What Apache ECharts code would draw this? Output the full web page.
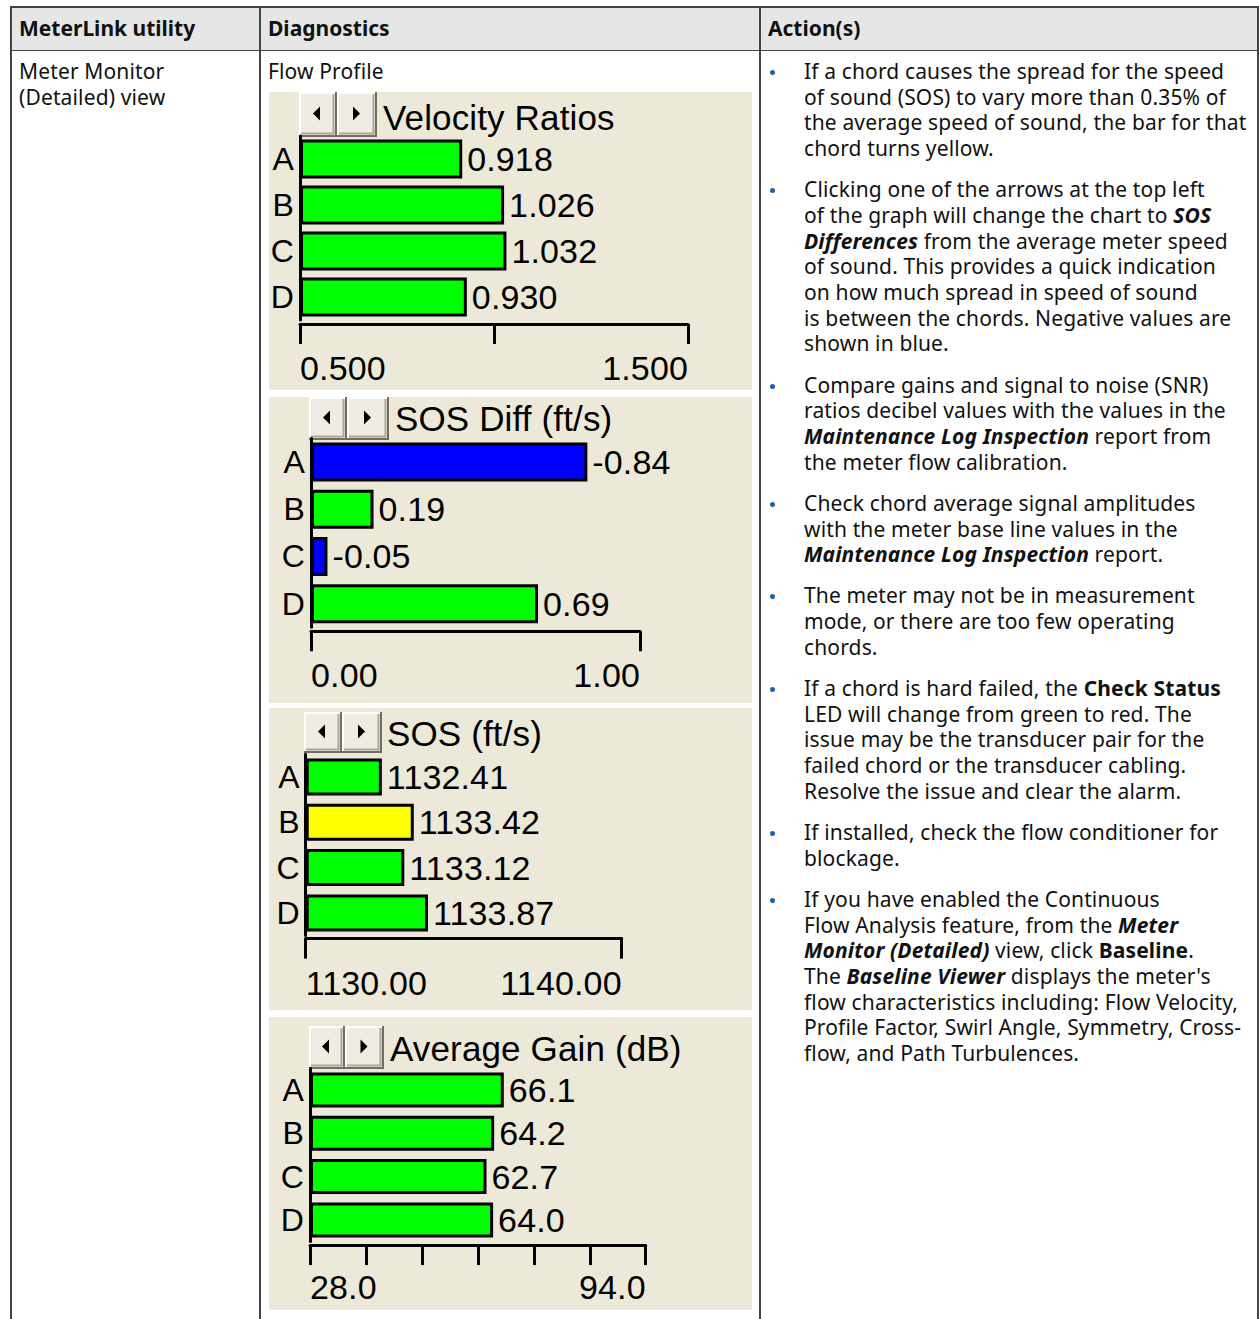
<!DOCTYPE html>
<html>
<head>
<meta charset="utf-8">
<script src="https://cdn.jsdelivr.net/npm/echarts@6/dist/echarts.min.js"></script>
<style>
  html, body { margin:0; padding:0; background:#fff; }
  body { width:1259px; height:1319px; overflow:hidden; position:relative;
         font-family:"Noto Sans", sans-serif; font-size:21px; letter-spacing:0.14px; color:#111; }
  .ln { position:absolute; background:#444; }
  .hdr { position:absolute; left:11px; top:8px; width:1247px; height:42px; background:#e6e6e6; }
  .t { position:absolute; line-height:25.67px; white-space:nowrap; }
  .t.h { font-weight:700; letter-spacing:0; }
  .col3 { position:absolute; left:804px; top:59px; white-space:nowrap; line-height:25.67px; }
  .col3 p { margin:0 0 15.6px 0; position:relative; }
  .col3 p::before { content:""; position:absolute; left:-34px; top:11px; width:5px; height:5px;
                    border-radius:50%; background:#1d5fa8; }
  .panel { position:absolute; background:#ece9d8; }
</style>
</head>
<body>
<div class="hdr"></div>
<div class="ln" style="left:10px; top:6px; width:1249px; height:2px;"></div>
<div class="ln" style="left:10px; top:50px; width:1249px; height:1px;"></div>
<div class="ln" style="left:10px; top:6px; width:2px; height:1313px;"></div>
<div class="ln" style="left:259px; top:6px; width:1.5px; height:1313px;"></div>
<div class="ln" style="left:758.5px; top:6px; width:2px; height:1313px;"></div>
<div class="ln" style="left:1257px; top:6px; width:2px; height:1313px;"></div>

<div class="t h" style="left:19px; top:16px;">MeterLink utility</div>
<div class="t h" style="left:268px; top:16px;">Diagnostics</div>
<div class="t h" style="left:768px; top:16px;">Action(s)</div>

<div class="t" style="left:19px; top:59px;">Meter Monitor<br>(Detailed) view</div>
<div class="t" style="left:268px; top:59px;">Flow Profile</div>

<div class="col3">
<p>If a chord causes the spread for the speed<br>of sound (SOS) to vary more than 0.35% of<br>the average speed of sound, the bar for that<br>chord turns yellow.</p>
<p>Clicking one of the arrows at the top left<br>of the graph will change the chart to <b><i>SOS</i></b><br><b><i>Differences</i></b> from the average meter speed<br>of sound. This provides a quick indication<br>on how much spread in speed of sound<br>is between the chords. Negative values are<br>shown in blue.</p>
<p>Compare gains and signal to noise (SNR)<br>ratios decibel values with the values in the<br><b><i>Maintenance Log Inspection</i></b> report from<br>the meter flow calibration.</p>
<p>Check chord average signal amplitudes<br>with the meter base line values in the<br><b><i>Maintenance Log Inspection</i></b> report.</p>
<p>The meter may not be in measurement<br>mode, or there are too few operating<br>chords.</p>
<p>If a chord is hard failed, the <b>Check Status</b><br>LED will change from green to red. The<br>issue may be the transducer pair for the<br>failed chord or the transducer cabling.<br>Resolve the issue and clear the alarm.</p>
<p>If installed, check the flow conditioner for<br>blockage.</p>
<p>If you have enabled the Continuous<br>Flow Analysis feature, from the <b><i>Meter</i></b><br><b><i>Monitor (Detailed)</i></b> view, click <b>Baseline</b>.<br>The <b><i>Baseline Viewer</i></b> displays the meter's<br>flow characteristics including: Flow Velocity,<br>Profile Factor, Swirl Angle, Symmetry, Cross-<br>flow, and Path Turbulences.</p>
</div>

<div id="c1" class="panel" style="left:269px; top:92px; width:483px; height:298px;"></div>
<div id="c2" class="panel" style="left:269px; top:397px; width:483px; height:306px;"></div>
<div id="c3" class="panel" style="left:269px; top:708px; width:483px; height:302px;"></div>
<div id="c4" class="panel" style="left:269px; top:1017px; width:483px; height:293px;"></div>

<script>
// ---------------- data ----------------
const categories = ['A', 'B', 'C', 'D'];

const velocityTitle = 'Velocity Ratios';
const velocityRatios = [0.918, 1.026, 1.032, 0.930];
const velocityRange = [0.5, 1.5];
const velocityTicks = [0.5, 1.0, 1.5];
const velocityTickLabelValues = [0.5, 1.5];
const velocityTickLabels = ['0.500', '1.500'];

const sosDiffTitle = 'SOS Diff (ft/s)';
const sosDiff = [-0.84, 0.19, -0.05, 0.69];
const sosDiffRange = [0, 1];
const sosDiffTicks = [0, 1];
const sosDiffTickLabelValues = [0, 1];
const sosDiffTickLabels = ['0.00', '1.00'];

const sosTitle = 'SOS (ft/s)';
const sos = [1132.41, 1133.42, 1133.12, 1133.87];
const sosAlarm = [false, true, false, false];
const sosRange = [1130, 1140];
const sosTicks = [1130, 1140];
const sosTickLabelValues = [1130, 1140];
const sosTickLabels = ['1130.00', '1140.00'];

const gainTitle = 'Average Gain (dB)';
const avgGain = [66.1, 64.2, 62.7, 64.0];
const gainRange = [28, 94];
const gainTicks = [28, 39, 50, 61, 72, 83, 94];
const gainTickLabelValues = [28, 94];
const gainTickLabels = ['28.0', '94.0'];

// ---------------- drawing ----------------
const FONT = '"Liberation Sans", Arial, sans-serif';
const GREEN = '#00ff00', BLUE = '#0000ff', YELLOW = '#ffff00';

function button(x, y, w, h, dir) {
  const cx = x + w / 2 - 1, cy = y + h / 2 - 1;
  const tri = dir < 0
    ? [[cx + 3, cy - 7], [cx + 3, cy + 7], [cx - 4, cy]]
    : [[cx - 3, cy - 7], [cx - 3, cy + 7], [cx + 4, cy]];
  return [
    { type: 'rect', shape: { x: x, y: y, width: w, height: h }, style: { fill: '#efede3' }, silent: true },
    { type: 'polyline', shape: { points: [[x + 1, y + h - 2], [x + 1, y + 1], [x + w - 2, y + 1]] }, style: { stroke: '#ffffff', lineWidth: 2, fill: null }, silent: true },
    { type: 'polyline', shape: { points: [[x + w - 3.5, y + 2], [x + w - 3.5, y + h - 3.5], [x + 2, y + h - 3.5]] }, style: { stroke: '#aca899', lineWidth: 2, fill: null }, silent: true },
    { type: 'polyline', shape: { points: [[x + w - 1, y], [x + w - 1, y + h - 1], [x, y + h - 1]] }, style: { stroke: '#716f64', lineWidth: 2, fill: null }, silent: true },
    { type: 'polygon', shape: { points: tri }, style: { fill: '#000' }, silent: true }
  ];
}

function build(id, cfg) {
  const chart = echarts.init(document.getElementById(id), null, { renderer: 'svg' });
  const g = cfg.layout;
  const findLabel = v => {
    const i = cfg.labelValues.findIndex(t => Math.abs(t - v) < 1e-9);
    return i >= 0 ? cfg.labelTexts[i] : '';
  };
  const graphics = []
    .concat(button(g.btnX, g.btnY, g.btnW1, g.btnH, -1))
    .concat(button(g.btnX + g.btnW1, g.btnY, g.btnW2, g.btnH, 1));
  graphics.push({
    type: 'text', x: g.titleX, y: g.titleY, silent: true,
    style: { text: cfg.title, fill: '#000', font: '35px ' + FONT, verticalAlign: 'middle', align: 'left' }
  });
  chart.setOption({
    animation: false,
    backgroundColor: '#ece9d8',
    graphic: graphics,
    grid: { left: g.left, top: g.top, width: g.width, height: g.height, containLabel: false, outerBoundsMode: 'none' },
    xAxis: {
      type: 'value', min: cfg.range[0], max: cfg.range[1], startValue: cfg.range[0],
      offset: g.offset,
      axisLine: { show: true, onZero: false, lineStyle: { color: '#000', width: 3 } },
      axisTick: { show: true, customValues: cfg.ticks, length: 20, lineStyle: { color: '#000', width: 3 } },
      axisLabel: {
        show: true, customValues: cfg.labelValues, formatter: findLabel,
        margin: g.labelMargin, fontSize: 34, color: '#000', fontFamily: FONT,
        alignMinLabel: 'left', alignMaxLabel: 'right'
      },
      splitLine: { show: false }
    },
    yAxis: {
      type: 'category', data: categories, inverse: true,
      axisLine: { show: true, onZero: false, lineStyle: { color: '#000', width: 3 } },
      axisTick: { show: false },
      axisLabel: { interval: 0, hideOverlap: false, margin: 6, fontSize: 32, color: '#000', fontFamily: FONT },
      splitLine: { show: false }
    },
    series: [{
      type: 'bar',
      silent: true,
      clip: true,
      barWidth: g.barWidth,
      data: cfg.values.map((v, i) => ({ value: cfg.drawValue(v), itemStyle: { color: cfg.color(v, i) } })),
      itemStyle: { borderColor: '#000', borderWidth: 3 },
      label: {
        show: true, position: 'right', distance: 5,
        formatter: p => cfg.values[p.dataIndex].toFixed(cfg.decimals),
        fontSize: 34, color: '#000', fontFamily: FONT
      }
    }]
  });
}

build('c1', {
  title: velocityTitle, values: velocityRatios, range: velocityRange, ticks: velocityTicks,
  labelValues: velocityTickLabelValues, labelTexts: velocityTickLabels, decimals: 3,
  drawValue: v => v, color: () => GREEN,
  layout: { left: 31, top: 44, width: 388, height: 184, offset: 4, barWidth: 39, labelMargin: 27,
            btnX: 30, btnY: 0, btnW1: 38, btnW2: 40, btnH: 45, titleX: 114, titleY: 25 }
});
build('c2', {
  title: sosDiffTitle, values: sosDiff, range: sosDiffRange, ticks: sosDiffTicks,
  labelValues: sosDiffTickLabelValues, labelTexts: sosDiffTickLabels, decimals: 2,
  drawValue: v => Math.abs(v), color: v => (v < 0 ? BLUE : GREEN),
  layout: { left: 42, top: 41.3, width: 329, height: 189, offset: 4, barWidth: 39, labelMargin: 27,
            btnX: 40, btnY: 0, btnW1: 38, btnW2: 42, btnH: 43, titleX: 126, titleY: 21 }
});
build('c3', {
  title: sosTitle, values: sos, range: sosRange, ticks: sosTicks,
  labelValues: sosTickLabelValues, labelTexts: sosTickLabels, decimals: 2,
  drawValue: v => v, color: (v, i) => (sosAlarm[i] ? YELLOW : GREEN),
  layout: { left: 36.7, top: 46.3, width: 316, height: 181.3, offset: 3, barWidth: 37, labelMargin: 27,
            btnX: 35, btnY: 4, btnW1: 38, btnW2: 40, btnH: 41, titleX: 118, titleY: 25 }
});
build('c4', {
  title: gainTitle, values: avgGain, range: gainRange, ticks: gainTicks,
  labelValues: gainTickLabelValues, labelTexts: gainTickLabels, decimals: 1,
  drawValue: v => v, color: () => GREEN,
  layout: { left: 41, top: 51.3, width: 335.7, height: 173.3, offset: 3.5, barWidth: 35, labelMargin: 25,
            btnX: 40, btnY: 9, btnW1: 36, btnW2: 39, btnH: 43, titleX: 121, titleY: 31 }
});
</script>
</body>
</html>
